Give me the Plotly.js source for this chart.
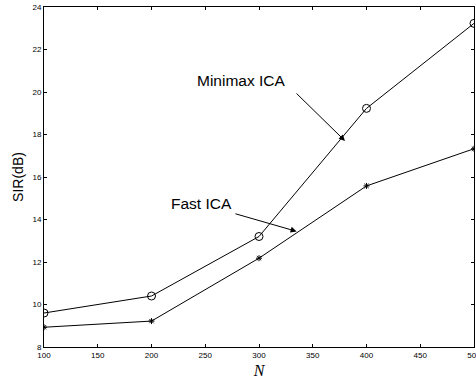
<!DOCTYPE html>
<html>
<head>
<meta charset="utf-8">
<script src="https://cdn.plot.ly/plotly-3.0.1.min.js"></script>
<style>html,body{margin:0;padding:0;background:#fff;}#chart{width:476px;height:384px;}</style>
</head>
<body>
<div id="chart"></div>
<script>
const N = [100, 200, 300, 400, 500];
const minimaxICA = [9.6, 10.4, 13.2, 19.23, 23.23];
const fastICA = [8.93, 9.22, 12.18, 15.58, 17.33];
const xTicks = [100, 150, 200, 250, 300, 350, 400, 450, 500];
const yTicks = [8, 10, 12, 14, 16, 18, 20, 22, 24];

const traces = [
  {x: N, y: minimaxICA, mode: 'lines+markers', name: 'Minimax ICA',
   line: {color: '#000', width: 1}, marker: {symbol: 'circle-open', size: 8, color: '#000', line: {width: 1, color: '#000'}}},
  {x: N, y: fastICA, mode: 'lines+markers', name: 'Fast ICA',
   line: {color: '#000', width: 1}, marker: {symbol: 'asterisk-open', size: 5, color: '#000', line: {width: 1, color: '#000'}}}
];

const axisBase = {showline: true, linecolor: '#000', linewidth: 1, mirror: 'ticks', ticks: 'inside', ticklen: 3,
  tickcolor: '#000', showgrid: false, zeroline: false, ticklabeloverflow: 'allow',
  tickfont: {family: 'Liberation Sans, Arial, sans-serif', size: 8, color: '#000'}};

const layout = {
  width: 476, height: 384,
  margin: {l: 44, r: 2, t: 7, b: 37},
  paper_bgcolor: '#fff', plot_bgcolor: '#fff',
  showlegend: false,
  xaxis: Object.assign({}, axisBase, {range: [100, 500], tickvals: xTicks, ticktext: xTicks.map(String),
    title: {text: 'N', font: {family: 'Liberation Serif, Times New Roman, serif', size: 16, color: '#000', style: 'italic'}, standoff: 6}}),
  yaxis: Object.assign({}, axisBase, {range: [8, 24], tickvals: yTicks, ticktext: yTicks.map(String),
    title: {text: 'SIR(dB)', font: {family: 'Liberation Sans, Arial, sans-serif', size: 14, color: '#000'}, standoff: 5}}),
  annotations: [
    {x: 283.9, y: 20.54, xref: 'x', yref: 'y', text: 'Minimax ICA', showarrow: false,
     font: {family: 'Liberation Sans, Arial, sans-serif', size: 15.5, color: '#000'}},
    {x: 246.7, y: 14.76, xref: 'x', yref: 'y', text: 'Fast ICA', showarrow: false,
     font: {family: 'Liberation Sans, Arial, sans-serif', size: 15.5, color: '#000'}},
    {x: 380, y: 17.7, ax: 333.5, ay: 20.0, xref: 'x', yref: 'y', axref: 'x', ayref: 'y', text: '',
     showarrow: true, arrowhead: 2, arrowsize: 1.2, arrowwidth: 1, arrowcolor: '#000'},
    {x: 335, y: 13.44, ax: 276.7, ay: 14.29, xref: 'x', yref: 'y', axref: 'x', ayref: 'y', text: '',
     showarrow: true, arrowhead: 2, arrowsize: 1.2, arrowwidth: 1, arrowcolor: '#000'}
  ]
};

Plotly.newPlot('chart', traces, layout, {displayModeBar: false, staticPlot: true});
</script>
</body>
</html>
